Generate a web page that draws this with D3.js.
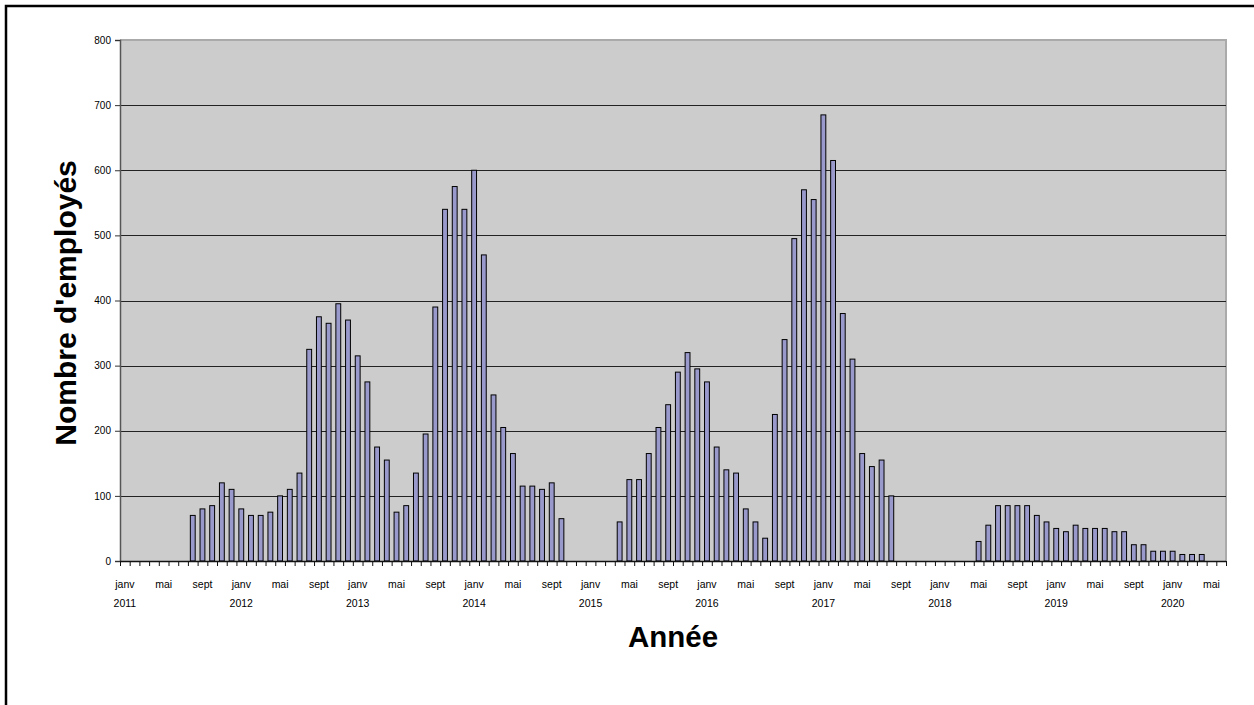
<!DOCTYPE html>
<html>
<head>
<meta charset="utf-8">
<script src="https://cdn.jsdelivr.net/npm/d3@7"></script>
<style>
  html, body { margin: 0; padding: 0; background: #fff; }
  svg { display: block; font-family: "Liberation Sans", Arial, sans-serif; }
</style>
</head>
<body>
<svg id="chart" width="1254" height="705"></svg>
<script>
// ---- data ----
const years = [2011, 2012, 2013, 2014, 2015, 2016, 2017, 2018, 2019, 2020];
const monthNames = ["janv", "févr", "mars", "avr", "mai", "juin", "juil", "août", "sept", "oct", "nov", "déc"];
const values2011 = [0, 0, 0, 0, 0, 0, 0, 70, 80, 85, 120, 110];
const values2012 = [80, 70, 70, 75, 100, 110, 135, 325, 375, 365, 395, 370];
const values2013 = [315, 275, 175, 155, 75, 85, 135, 195, 390, 540, 575, 540];
const values2014 = [600, 470, 255, 205, 165, 115, 115, 110, 120, 65, 0, 0];
const values2015 = [0, 0, 0, 60, 125, 125, 165, 205, 240, 290, 320, 295];
const values2016 = [275, 175, 140, 135, 80, 60, 35, 225, 340, 495, 570, 555];
const values2017 = [685, 615, 380, 310, 165, 145, 155, 100, 0, 0, 0, 0];
const values2018 = [0, 0, 0, 0, 30, 55, 85, 85, 85, 85, 70, 60];
const values2019 = [50, 45, 55, 50, 50, 50, 45, 45, 25, 25, 15, 15];
const values2020 = [15, 10, 10, 10, 0, 0];
const yTicks = [0, 100, 200, 300, 400, 500, 600, 700, 800];
const labelMonths = ["janv", "mai", "sept"];
const yTitle = "Nombre d'employés";
const xTitle = "Année";

const allValues = [values2011, values2012, values2013, values2014, values2015,
  values2016, values2017, values2018, values2019, values2020];
const data = [];
years.forEach((y, yi) => {
  allValues[yi].forEach((v, mi) => {
    data.push({ key: y + "-" + mi, year: y, month: monthNames[mi], value: v });
  });
});

// ---- layout ----
const svg = d3.select("#chart");
const L = 120, R = 1226, T = 40, B = 561;

// outer frame
svg.append("path").attr("d", `M6,705 L6,6 L1254,6`)
  .attr("fill", "none").attr("stroke", "#000").attr("stroke-width", 2.5);

const x = d3.scaleBand().domain(data.map(d => d.key)).range([L, R])
  .paddingInner(0.5).paddingOuter(0.25);
const xi = d3.scaleLinear().domain([0, data.length]).range([L, R]);
const y = d3.scaleLinear().domain([0, 800]).range([B, T]);

// plot background
svg.append("rect").attr("x", L).attr("y", T).attr("width", R - L).attr("height", B - T)
  .attr("fill", "#cccccc");
svg.append("path").attr("d", `M${L},${T} L${R},${T} L${R},${B}`)
  .attr("fill", "none").attr("stroke", "#aaaaaa").attr("stroke-width", 2);

// gridlines
svg.append("g").selectAll("line").data(yTicks.filter(t => t > 0 && t < 800)).join("line")
  .attr("x1", L).attr("x2", R)
  .attr("y1", d => Math.round(y(d)) + 0.5).attr("y2", d => Math.round(y(d)) + 0.5)
  .attr("stroke", "#222").attr("stroke-width", 1);

// bars
svg.append("g").selectAll("rect").data(data.filter(d => d.value > 0)).join("rect")
  .attr("x", d => x(d.key))
  .attr("y", d => y(d.value))
  .attr("width", x.bandwidth())
  .attr("height", d => y(0) - y(d.value))
  .attr("fill", "#9999cc")
  .attr("stroke", "#000").attr("stroke-width", 1);

// y axis
const yAxis = svg.append("g").attr("transform", `translate(${L},0)`)
  .call(d3.axisLeft(y).tickValues(yTicks).tickSize(5).tickPadding(4));
yAxis.select(".domain").attr("stroke", "#555").attr("stroke-width", 1.5);
yAxis.selectAll(".tick line").attr("stroke", "#333");
yAxis.selectAll("text").attr("font-size", "10px").attr("fill", "#000")
  .attr("font-family", "'Liberation Sans', Arial, sans-serif");

// x axis ticks at category boundaries
const xTickAxis = svg.append("g").attr("transform", `translate(0,${B})`)
  .call(d3.axisBottom(xi).tickValues(d3.range(0, data.length + 1)).tickSize(5).tickFormat(""));
xTickAxis.select(".domain").remove();
xTickAxis.selectAll(".tick line").attr("stroke", "#111");
svg.append("line").attr("x1", L).attr("x2", R).attr("y1", B + 0.5).attr("y2", B + 0.5)
  .attr("stroke", "#111").attr("stroke-width", 1.5);

// x labels
const labelled = data.filter(d => labelMonths.includes(d.month));
const xLab = svg.append("g").attr("transform", `translate(0,${B})`)
  .call(d3.axisBottom(x).tickValues(labelled.map(d => d.key)).tickSize(0).tickPadding(0)
    .tickFormat(""));
xLab.select(".domain").remove();
xLab.selectAll(".tick").each(function(k) {
  const d = data.find(e => e.key === k);
  const g = d3.select(this);
  g.append("text").attr("y", 27).attr("text-anchor", "middle")
    .attr("font-size", "10.5px").attr("fill", "#000").text(d.month);
  if (d.month === "janv") {
    g.append("text").attr("y", 46).attr("text-anchor", "middle")
      .attr("font-size", "10.5px").attr("fill", "#000").text(d.year);
  }
});

// titles
svg.append("text").attr("transform", `translate(76,303) rotate(-90)`)
  .attr("text-anchor", "middle").attr("font-size", "30px").attr("font-weight", "bold")
  .attr("fill", "#000").text(yTitle);
svg.append("text").attr("x", 673).attr("y", 647)
  .attr("text-anchor", "middle").attr("font-size", "29.5px").attr("font-weight", "bold")
  .attr("fill", "#000").text(xTitle);
</script>
</body>
</html>
